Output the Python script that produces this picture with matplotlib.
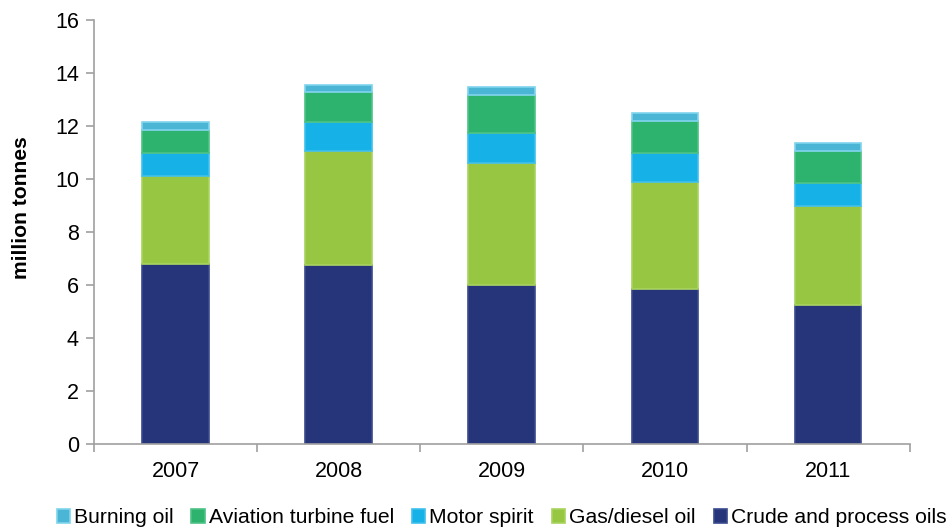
import numpy as np
import matplotlib.pyplot as plt

plt.rcParams['font.family'] = ['Liberation Sans', 'DejaVu Sans']

years = ['2007', '2008', '2009', '2010', '2011']
crude = [6.81, 6.76, 6.00, 5.85, 5.25]
gas_diesel = [3.31, 4.31, 4.61, 4.03, 3.74]
motor_spirit = [0.88, 1.09, 1.14, 1.12, 0.86]
aviation = [0.85, 1.11, 1.43, 1.19, 1.23]
burning = [0.29, 0.28, 0.28, 0.29, 0.29]

series = [
    ('Crude and process oils', crude, '#263579', '#3b4a8c'),
    ('Gas/diesel oil', gas_diesel, '#97c742', '#a9d35e'),
    ('Motor spirit', motor_spirit, '#16b1e6', '#3fc0ec'),
    ('Aviation turbine fuel', aviation, '#2db36e', '#4cc285'),
    ('Burning oil', burning, '#4bb5d6', '#7fd4ee'),
]

fig = plt.figure(figsize=(9.47, 5.29), dpi=100)
ax = fig.add_axes([0.0995, 0.160, 0.861, 0.802])

x = np.arange(len(years))
bottom = np.zeros(len(years))
handles = []
for name, vals, color, edge in series:
    b = ax.bar(x, vals, bottom=bottom, width=0.41, color=color,
               edgecolor=edge, linewidth=1.2, label=name, zorder=2)
    handles.append(b)
    bottom += np.array(vals)

ax.set_xlim(-0.5, len(years) - 0.5)
ax.set_ylim(0, 16)
ax.set_yticks(range(0, 17, 2))
ax.set_xticks(x)
ax.set_xticklabels(years)
ax.set_xticks(np.arange(-0.5, len(years)), minor=True)
ax.tick_params(axis='x', which='major', length=0, pad=12, labelsize=15.5)
ax.tick_params(axis='x', which='minor', length=6, color='#a0a0a0', width=1.2)
ax.tick_params(axis='y', length=6, color='#a0a0a0', width=1.2, labelsize=15.5, pad=5)

for s in ['top', 'right']:
    ax.spines[s].set_visible(False)
for s in ['left', 'bottom']:
    ax.spines[s].set_color('#a0a0a0')
    ax.spines[s].set_linewidth(1.2)

ax.set_ylabel('million tonnes', fontsize=15.2, fontweight='bold')
ax.yaxis.set_label_coords(-0.077, 0.559)

leg = fig.legend(handles[::-1], [h.get_label() for h in handles[::-1]],
                 loc='center', bbox_to_anchor=(0.5296, 0.021), ncol=5,
                 frameon=False, fontsize=15.2, handlelength=0.62, handleheight=0.7,
                 handletextpad=0.2, columnspacing=0.85, borderpad=0)

plt.savefig('out.png', dpi=100)
